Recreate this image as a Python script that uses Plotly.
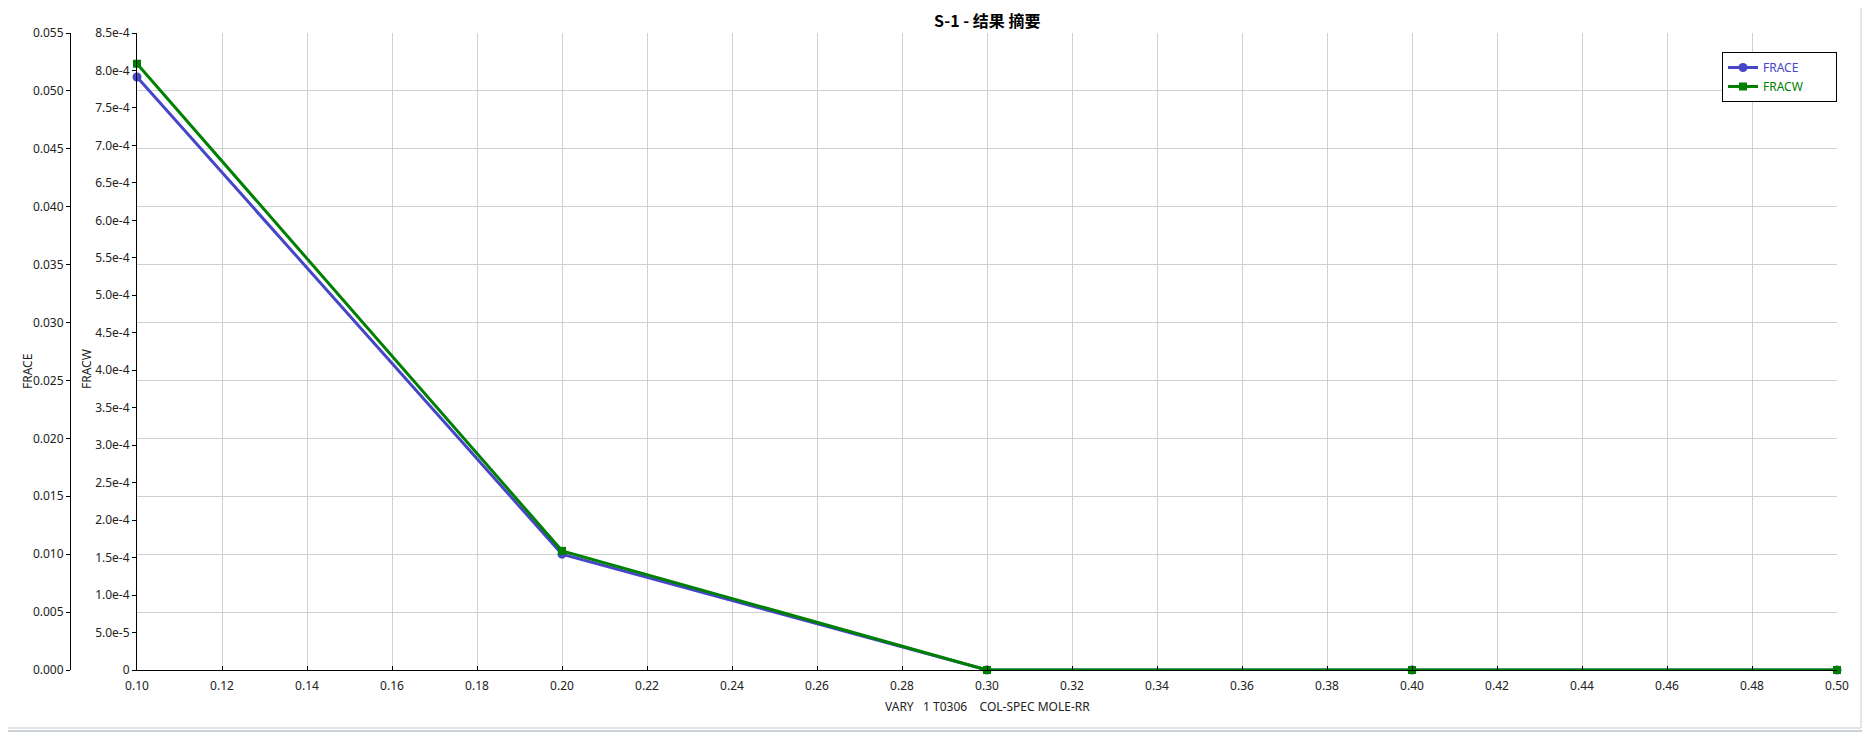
import plotly.graph_objects as go

# Data
x_vals = [0.10, 0.20, 0.30, 0.40, 0.50]
frace = [0.0512, 0.0100, 0.0, 0.0, 0.0]
fracw = [8.09e-4, 1.59e-4, 0.0, 0.0, 0.0]

x_ticks = [0.10, 0.12, 0.14, 0.16, 0.18, 0.20, 0.22, 0.24, 0.26, 0.28, 0.30,
           0.32, 0.34, 0.36, 0.38, 0.40, 0.42, 0.44, 0.46, 0.48, 0.50]
y1_ticks = [0.000, 0.005, 0.010, 0.015, 0.020, 0.025, 0.030, 0.035, 0.040, 0.045, 0.050, 0.055]
y2_ticks = [0, 5.0e-5, 1.0e-4, 1.5e-4, 2.0e-4, 2.5e-4, 3.0e-4, 3.5e-4, 4.0e-4, 4.5e-4,
            5.0e-4, 5.5e-4, 6.0e-4, 6.5e-4, 7.0e-4, 7.5e-4, 8.0e-4, 8.5e-4]
y2_labels = ["0", "5.0e-5", "1.0e-4", "1.5e-4", "2.0e-4", "2.5e-4", "3.0e-4", "3.5e-4",
             "4.0e-4", "4.5e-4", "5.0e-4", "5.5e-4", "6.0e-4", "6.5e-4", "7.0e-4",
             "7.5e-4", "8.0e-4", "8.5e-4"]

series_names = ["FRACE", "FRACW"]
title_text = "S-1 - 结果 摘要"
x_title = "VARY\u00a0\u00a0\u00a01 T0306\u00a0\u00a0\u00a0\u00a0COL-SPEC MOLE-RR"

BLUE = "#4646C8"
GREEN = "#008000"
FONT = "Noto Sans, Open Sans, sans-serif"

# page offset caused by the default body margin of the html page
OFF = 8
W, H = 1870 - OFF, 736 - OFF
# page coordinates of the plot area
PLOT_L_PAGE, PLOT_R_PAGE, PLOT_T_PAGE, PLOT_B_PAGE = 137, 1837, 33, 670
AX1_PAGE = 70
L = AX1_PAGE - OFF
T = PLOT_T_PAGE - OFF
B = H - (PLOT_B_PAGE - OFF)
R = W - (PLOT_R_PAGE - OFF)
PW = W - L - R
PH = H - T - B


def px_x(p):  # page x -> paper
    return (p - OFF - L) / PW


def px_y(p):  # page y -> paper
    return (H - B - (p - OFF)) / PH


pad = "\u00a0" * 9

fig = go.Figure()
fig.add_trace(go.Scatter(
    x=x_vals, y=frace, name=f"<span style='color:{BLUE}'>{series_names[0]}{pad}</span>",
    mode="lines+markers", line=dict(color=BLUE, width=3),
    marker=dict(symbol="circle", size=9, color=BLUE),
    yaxis="y", cliponaxis=False))
fig.add_trace(go.Scatter(
    x=x_vals, y=fracw, name=f"<span style='color:{GREEN}'>{series_names[1]}{pad}</span>",
    mode="lines+markers", line=dict(color=GREEN, width=3),
    marker=dict(symbol="square", size=8, color=GREEN),
    yaxis="y2", cliponaxis=False))

axis_font = dict(family=FONT, size=12, color="#222222")

fig.update_layout(
    width=W, height=H,
    margin=dict(l=L, r=R, t=T, b=B, autoexpand=False),
    paper_bgcolor="white", plot_bgcolor="white",
    font=dict(family=FONT, size=12, color="#222222"),
    showlegend=True,
    legend=dict(x=1, xanchor="right", y=px_y(52), yanchor="top",
                bgcolor="white", bordercolor="black", borderwidth=1,
                font=dict(family=FONT, size=12), itemwidth=30,
                tracegroupgap=2),
    xaxis=dict(domain=[px_x(PLOT_L_PAGE), 1], range=[0.10, 0.50],
               tickvals=x_ticks, tickformat=".2f",
               showgrid=True, gridcolor="#d0d0d0", gridwidth=1,
               zeroline=False, showline=True, linecolor="black", linewidth=1,
               ticks="inside", ticklen=4, tickcolor="black",
               ticklabelstandoff=5,
               tickfont=axis_font),
    yaxis=dict(range=[0, 0.055], tickvals=y1_ticks, tickformat=".3f",
               anchor="free", position=0, side="left",
               showgrid=True, gridcolor="#d0d0d0", gridwidth=1,
               zeroline=False, showline=True, linecolor="black", linewidth=1,
               ticks="outside", ticklen=4, tickcolor="black",
               tickfont=axis_font),
    yaxis2=dict(range=[0, 8.5e-4], tickvals=y2_ticks, ticktext=y2_labels,
                overlaying="y", anchor="x", side="left",
                showgrid=False, zeroline=False, showline=True,
                linecolor="black", linewidth=1,
                ticks="outside", ticklen=4, tickcolor="black",
                tickfont=axis_font),
    annotations=[
        dict(text=f"<b>{title_text}</b>", xref="paper", yref="paper",
             x=px_x(987), y=px_y(20), xanchor="center", yanchor="middle",
             showarrow=False, borderpad=0,
             font=dict(family="Noto Sans CJK SC, Noto Sans, sans-serif", size=16, color="black")),
        dict(text=series_names[0], xref="paper", yref="paper", x=px_x(27), y=px_y(372),
             xanchor="center", yanchor="middle", textangle=-90, showarrow=False,
             font=dict(family=FONT, size=12, color="#222222")),
        dict(text=series_names[1], xref="paper", yref="paper", x=px_x(86), y=px_y(369),
             xanchor="center", yanchor="middle", textangle=-90, showarrow=False,
             font=dict(family=FONT, size=12, color="#222222")),
        dict(text=x_title, xref="paper", yref="paper", x=px_x(987), y=px_y(706),
             xanchor="center", yanchor="middle", showarrow=False,
             font=dict(family=FONT, size=12, color="#222222")),
    ],
    shapes=[
        dict(type="rect", xref="paper", yref="paper",
             x0=px_x(1), x1=px_x(1864), y0=px_y(731), y1=px_y(-20),
             line=dict(color="#9aa3b0", width=1), layer="below"),
        dict(type="rect", xref="paper", yref="paper",
             x0=px_x(4), x1=px_x(1861), y0=px_y(728), y1=px_y(-20),
             line=dict(color="#c4ccd8", width=1), layer="below"),
    ],
)

fig.write_html("out.html")
